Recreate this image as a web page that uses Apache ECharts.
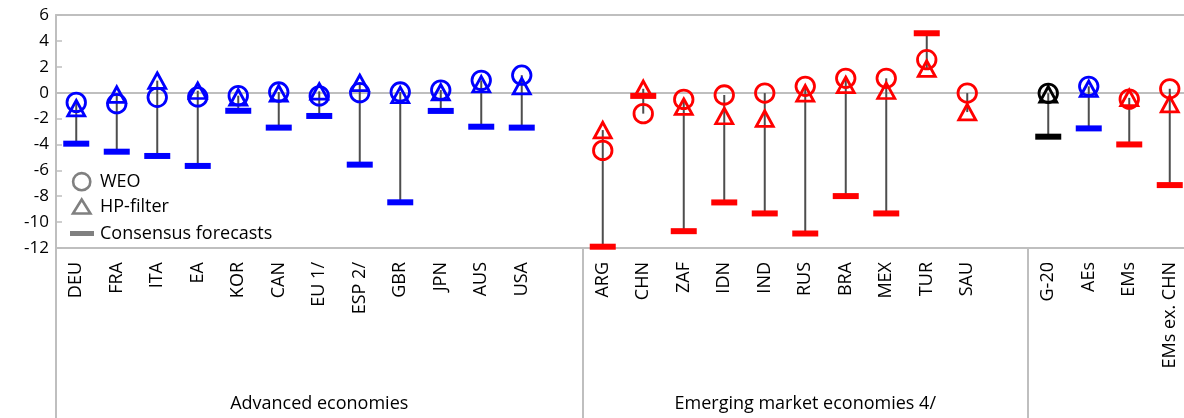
<!DOCTYPE html>
<html><head><meta charset="utf-8">
<script src="https://cdn.jsdelivr.net/npm/echarts@6/dist/echarts.min.js"></script>
<style>html,body{margin:0;padding:0;background:#fff}#c{width:1184px;height:418px}</style>
</head><body><div id="c"></div>
<script>
// ---- data ----
const categories = ['DEU','FRA','ITA','EA','KOR','CAN','EU 1/','ESP 2/','GBR','JPN','AUS','USA',' ',
  'ARG','CHN','ZAF','IDN','IND','RUS','BRA','MEX','TUR','SAU','  ',
  'G-20','AEs','EMs','EMs ex. CHN'];
const groupOf = ['AE','AE','AE','AE','AE','AE','AE','AE','AE','AE','AE','AE','gap',
  'EM','EM','EM','EM','EM','EM','EM','EM','EM','EM','gap',
  'G20','AE','EM','EM'];
const weo = [-0.75,-0.85,-0.36,-0.33,-0.23,0.05,-0.25,0.0,0.05,0.2,0.95,1.35,null,
  -4.46,-1.62,-0.52,-0.18,-0.03,0.49,1.11,1.11,2.55,-0.03,null,
  -0.05,0.49,-0.5,0.3];
const hpFilter = [-1.2,-0.15,0.93,0.15,-0.36,-0.05,0.1,0.75,-0.18,0.03,0.65,0.5,null,
  -2.89,0.3,-1.08,-1.8,-2.0,-0.05,0.6,0.15,1.86,-1.5,null,
  -0.13,0.3,-0.4,-0.88];
const consensus = [-3.94,-4.56,-4.89,-5.66,-1.4,-2.7,-1.8,-5.56,-8.47,-1.41,-2.63,-2.7,null,
  -11.9,-0.25,-10.7,-8.48,-9.33,-10.88,-7.99,-9.33,4.59,null,null,
  -3.4,-2.76,-4.0,-7.14];
const groupNames = ['Advanced economies','Emerging market economies 4/',''];
const groupSizes = [13, 11, 4];
const yMin = -12, yMax = 6, yStep = 2;
const seriesNames = ['WEO','HP-filter','Consensus forecasts'];

// ---- styles ----
const groupColor = {AE:'#0000ff', EM:'#ff0000', G20:'#000000', gap:'#000000'};
const gridCol = '#bfbfbf';
const FONT = 'Open Sans';
const FS = 18;

const groupStarts = []; let acc = 0;
groupSizes.forEach(n => { groupStarts.push(acc); acc += n; });
const groupLabelData = categories.map(() => '');
groupNames.forEach((g, k) => { if (g) groupLabelData[groupStarts[k] + Math.floor(groupSizes[k] / 2)] = g; });

function pts(arr) {
  const out = [];
  arr.forEach((v, i) => { if (v != null) out.push({value: [i, v], itemStyle: {borderColor: groupColor[groupOf[i]]}}); });
  return out;
}
const hlData = [];
categories.forEach((c, i) => {
  const vals = [weo[i], hpFilter[i], consensus[i]].filter(v => v != null);
  if (vals.length) hlData.push([i, Math.min(...vals), Math.max(...vals)]);
});

const chart = echarts.init(document.getElementById('c'), null, {renderer: 'canvas'});
const baseX = {type: 'category', data: categories, boundaryGap: true, gridIndex: 0};
chart.setOption({
  animation: false,
  textStyle: {fontFamily: FONT},
  grid: {left: 56, top: 15, width: 1134, height: 233, outerBoundsMode: 'none', containLabel: false},
  xAxis: [
    Object.assign({}, baseX, {
      position: 'bottom',
      axisLine: {onZero: false, lineStyle: {color: gridCol, width: 2}},
      axisTick: {show: true, length: 170, interval: (idx) => groupStarts.indexOf(idx) >= 0,
        lineStyle: {color: gridCol, width: 2}},
      axisLabel: {interval: 0, rotate: 90, margin: 14, fontSize: FS, color: '#000', fontFamily: FONT}
    }),
    Object.assign({}, baseX, {
      data: groupLabelData, position: 'bottom',
      axisLine: {show: false, onZero: false}, axisTick: {show: false},
      axisLabel: {interval: 0, margin: 147, fontSize: FS, color: '#000', fontFamily: FONT}
    }),
    Object.assign({}, baseX, {
      position: 'top',
      axisLine: {show: true, onZero: false, lineStyle: {color: gridCol, width: 2}},
      axisTick: {show: false}, axisLabel: {show: false}
    }),
    Object.assign({}, baseX, {
      position: 'bottom',
      axisLine: {show: true, onZero: true, onZeroAxisIndex: 0, lineStyle: {color: gridCol, width: 2}},
      axisTick: {show: false}, axisLabel: {show: false}
    })
  ],
  yAxis: {
    type: 'value', min: yMin, max: yMax, interval: yStep,
    axisLine: {show: true, onZero: false, lineStyle: {color: gridCol, width: 2}},
    axisTick: {show: true, inside: true, length: 6, lineStyle: {color: gridCol, width: 1.5}},
    splitLine: {show: false},
    axisLabel: {fontSize: 17, color: '#000', margin: 7, fontFamily: FONT}
  },
  series: [
    {
      type: 'custom', name: 'highlow', xAxisIndex: 0, yAxisIndex: 0, z: 2,
      data: hlData, encode: {x: 0, y: [1, 2]},
      renderItem: function (params, api) {
        const p1 = api.coord([api.value(0), api.value(1)]);
        const p2 = api.coord([api.value(0), api.value(2)]);
        return {type: 'line', shape: {x1: p1[0], y1: p1[1], x2: p2[0], y2: p2[1]},
          style: {stroke: '#4d4d4d', lineWidth: 2}};
      }
    },
    {
      type: 'scatter', name: seriesNames[0], xAxisIndex: 0, z: 3,
      symbol: 'circle', symbolSize: 18.5,
      itemStyle: {color: 'rgba(0,0,0,0)', borderWidth: 2.8, opacity: 1},
      data: pts(weo)
    },
    {
      type: 'scatter', name: seriesNames[1], xAxisIndex: 0, z: 4,
      symbol: 'triangle', symbolSize: [17, 15.5],
      itemStyle: {color: 'rgba(0,0,0,0)', borderWidth: 2.8, opacity: 1},
      data: pts(hpFilter)
    },
    {
      type: 'scatter', name: seriesNames[2], xAxisIndex: 0, z: 5,
      symbol: 'rect', symbolSize: [26, 6],
      itemStyle: {borderWidth: 0, opacity: 1},
      data: consensus.map((v, i) => v == null ? null : {value: [i, v], itemStyle: {color: groupColor[groupOf[i]]}}).filter(d => d)
    }
  ],
  graphic: [
    {type: 'circle', shape: {cx: 81.7, cy: 181.7, r: 8.6}, style: {fill: 'none', stroke: '#808080', lineWidth: 2.6}},
    {type: 'polygon', shape: {points: [[81.7, 199.5], [73, 213.5], [90.4, 213.5]]}, style: {fill: 'none', stroke: '#808080', lineWidth: 2.6}},
    {type: 'rect', shape: {x: 70, y: 231, width: 24, height: 5}, style: {fill: '#808080'}},
    {type: 'text', x: 100, y: 182, style: {text: seriesNames[0], fill: '#000', font: FS + 'px "Open Sans"', verticalAlign: 'middle'}},
    {type: 'text', x: 100, y: 207, style: {text: seriesNames[1], fill: '#000', font: FS + 'px "Open Sans"', verticalAlign: 'middle'}},
    {type: 'text', x: 100, y: 233.5, style: {text: seriesNames[2], fill: '#000', font: FS + 'px "Open Sans"', verticalAlign: 'middle'}}
  ]
});
</script></body></html>
